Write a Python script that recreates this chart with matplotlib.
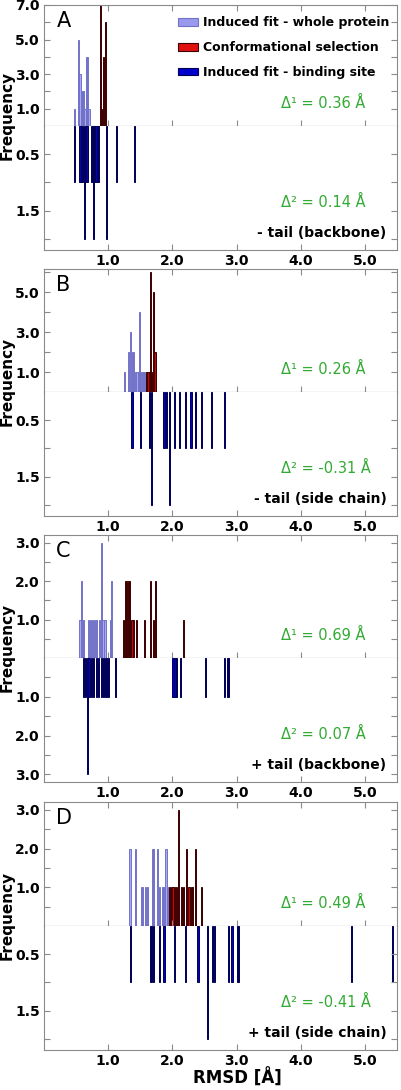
import matplotlib
matplotlib.use('Agg')
import matplotlib.pyplot as plt
from matplotlib.patches import Patch

# RMSD bin centres [A] and counts
# panel A : - tail (backbone)
a_whole_x = [0.48, 0.54, 0.56, 0.58, 0.60, 0.62, 0.64, 0.66, 0.68, 0.70]
a_whole_n = [1, 5, 3, 2, 2, 2, 1, 4, 4, 1]
a_conf_x = [0.88, 0.90, 0.93, 0.96]
a_conf_n = [7, 1, 4, 6]
a_site_x = [0.48, 0.56, 0.58, 0.60, 0.63, 0.65, 0.67, 0.74, 0.76, 0.77, 0.79, 0.81, 0.83, 0.85, 0.98, 1.13, 1.41]
a_site_n = [1, 1, 1, 1, 2, 1, 1, 1, 1, 2, 1, 1, 1, 1, 2, 1, 1]

# panel B : - tail (side chain)
b_whole_x = [1.26, 1.32, 1.35, 1.38, 1.40, 1.43, 1.45, 1.47, 1.49, 1.51, 1.53, 1.55, 1.57]
b_whole_n = [1, 2, 3, 2, 2, 1, 1, 1, 4, 1, 1, 1, 1]
b_conf_x = [1.60, 1.62, 1.64, 1.66, 1.68, 1.71, 1.73]
b_conf_n = [1, 1, 1, 6, 1, 5, 2]
b_site_x = [1.37, 1.51, 1.65, 1.68, 1.87, 1.91, 1.95, 2.03, 2.11, 2.20, 2.29, 2.36, 2.45, 2.61, 2.81]
b_site_n = [1, 1, 1, 2, 1, 1, 2, 1, 1, 1, 1, 1, 1, 1, 1]

# panel C : + tail (backbone)
c_whole_x = [0.56, 0.58, 0.60, 0.62, 0.69, 0.72, 0.76, 0.79, 0.82, 0.87, 0.90, 0.92, 0.95, 1.03, 1.05]
c_whole_n = [1, 2, 1, 1, 1, 1, 1, 1, 1, 1, 3, 1, 1, 1, 2]
c_conf_x = [1.24, 1.27, 1.29, 1.31, 1.33, 1.37, 1.40, 1.44, 1.57, 1.66, 1.70, 1.74, 2.18]
c_conf_n = [1, 2, 2, 2, 2, 1, 1, 1, 1, 2, 1, 2, 1]
c_site_x = [0.61, 0.65, 0.68, 0.70, 0.74, 0.77, 0.82, 0.85, 0.90, 0.93, 0.96, 0.98, 1.00, 1.11,
            2.01, 2.04, 2.06, 2.13, 2.51, 2.81, 2.86, 2.88]
c_site_n = [1, 1, 3, 1, 1, 1, 1, 1, 1, 1, 1, 1, 1, 1, 1, 1, 1, 1, 1, 1, 1, 1]

# panel D : + tail (side chain)
d_whole_x = [1.34, 1.42, 1.52, 1.54, 1.58, 1.61, 1.69, 1.71, 1.77, 1.80, 1.84, 1.86, 1.90, 1.92]
d_whole_n = [2, 2, 1, 1, 1, 1, 2, 2, 2, 1, 1, 1, 2, 1]
d_conf_x = [1.95, 1.98, 2.01, 2.03, 2.06, 2.10, 2.14, 2.17, 2.22, 2.26, 2.30, 2.32, 2.36, 2.45]
d_conf_n = [1, 1, 1, 1, 1, 3, 1, 1, 2, 1, 1, 1, 2, 1]
d_site_x = [1.35, 1.66, 1.68, 1.70, 1.80, 1.87, 2.03, 2.20, 2.40, 2.55, 2.62, 2.66, 2.87, 2.93,
            3.01, 3.03, 4.79, 5.43]
d_site_n = [1, 1, 1, 1, 1, 1, 1, 1, 1, 2, 1, 1, 1, 1, 1, 1, 1, 1]

letters = ['A', 'B', 'C', 'D']
delta1 = ['0.36', '0.26', '0.69', '0.49']
delta2 = ['0.14', '-0.31', '0.07', '-0.41']
tails = ['- tail (backbone)', '- tail (side chain)', '+ tail (backbone)', '+ tail (side chain)']
x_ticks = [1.0, 2.0, 3.0, 4.0, 5.0]

whole_col = dict(facecolor='#a8a8f4', edgecolor='#7272c8')
conf_col = dict(facecolor='#d40000', edgecolor='#3c0000')
site_col = dict(facecolor='#0000c8', edgecolor='#000058')
green = '#33aa33'
frame = '#8a8a8a'
bw = 0.018

W, H = 402, 1090
fig = plt.figure(figsize=(W / 100, H / 100), dpi=100)

# pixel rows (top, zero line, bottom) of each panel
rows = [(5, 126, 250), (269, 392, 516), (535, 658, 782), (802, 926, 1050)]
up_lims = [7.0, 6.15, 3.2, 3.2]
low_lims = [2.2, 2.2, 3.2, 2.2]
data = [(a_whole_x, a_whole_n, a_conf_x, a_conf_n, a_site_x, a_site_n),
        (b_whole_x, b_whole_n, b_conf_x, b_conf_n, b_site_x, b_site_n),
        (c_whole_x, c_whole_n, c_conf_x, c_conf_n, c_site_x, c_site_n),
        (d_whole_x, d_whole_n, d_conf_x, d_conf_n, d_site_x, d_site_n)]


def ticks_for(lim, step, labelled):
    t, lab = [], []
    v = step
    while v <= lim + 1e-9:
        t.append(v)
        lab.append('%.1f' % v if any(abs(v - l) < 1e-9 for l in labelled) else '')
        v += step
    return t, lab


def style(ax):
    for s in ax.spines.values():
        s.set_color(frame)
    ax.tick_params(direction='in', length=4, color=frame, top=True, right=True,
                   labelsize=10, pad=3)
    ax.set_xlim(0, 5.5)
    ax.set_xticks(x_ticks)
    ax.set_xticklabels(['%.1f' % v for v in x_ticks], fontweight='bold')


for i in range(4):
    top, mid, bot = rows[i]
    wx, wn, cx, cn, sx, sn = data[i]
    ax_up = fig.add_axes([44 / W, 1 - mid / H, 353 / W, (mid - top) / H])
    ax_lo = fig.add_axes([44 / W, 1 - bot / H, 353 / W, (bot - mid) / H])

    ax_up.bar(wx, wn, width=bw, linewidth=0.7, **whole_col)
    ax_up.bar(cx, cn, width=bw, linewidth=0.7, **conf_col)
    ax_lo.bar(sx, sn, width=bw, linewidth=0.7, **site_col)

    ax_up.set_ylim(0, up_lims[i])
    ax_lo.set_ylim(low_lims[i], 0)

    style(ax_up)
    style(ax_lo)

    if up_lims[i] > 4:
        t, lab = ticks_for(up_lims[i], 1.0, [1, 3, 5, 7])
    else:
        t, lab = ticks_for(up_lims[i], 0.5, [1, 2, 3])
    ax_up.set_yticks(t)
    ax_up.set_yticklabels(lab, fontweight='bold')
    if low_lims[i] > 3:
        t, lab = ticks_for(low_lims[i], 0.5, [1, 2, 3])
    else:
        t, lab = ticks_for(low_lims[i], 0.5, [0.5, 1.5])
    ax_lo.set_yticks(t)
    ax_lo.set_yticklabels(lab, fontweight='bold')

    ax_up.tick_params(labelbottom=False)
    ax_lo.tick_params(top=False)
    ax_up.spines['bottom'].set_color('#404040')
    ax_lo.spines['top'].set_visible(False)

    ax_up.text(0.035, 0.95, letters[i], transform=ax_up.transAxes, fontsize=15,
               ha='left', va='top')
    ax_up.text(0.671, 0.185, '\u0394\u00b9 = %s \u00c5' % delta1[i], transform=ax_up.transAxes,
               color=green, fontsize=10.5, ha='left', va='center')
    ax_lo.text(0.671, 0.38, '\u0394\u00b2 = %s \u00c5' % delta2[i], transform=ax_lo.transAxes,
               color=green, fontsize=10.5, ha='left', va='center')
    ax_lo.text(0.97, 0.14, tails[i], transform=ax_lo.transAxes, fontsize=10,
               fontweight='bold', ha='right', va='center')

    fig.text(7 / W, 1 - (mid - 11) / H, 'Frequency', rotation=90, fontsize=11,
             fontweight='bold', ha='center', va='center')

    if i == 0:
        handles = [Patch(linewidth=0.8, **dict(whole_col, facecolor='#9999ee')),
                   Patch(linewidth=0.8, **dict(conf_col, facecolor='#e01010')),
                   Patch(linewidth=0.8, **dict(site_col, facecolor='#0000cc'))]
        ax_up.legend(handles, ['Induced fit - whole protein', 'Conformational selection',
                               'Induced fit - binding site'],
                     loc='upper right', frameon=False, prop=dict(weight='bold', size=9),
                     handlelength=1.6, handleheight=0.6, labelspacing=0.95,
                     handletextpad=0.4, borderaxespad=0.2, bbox_to_anchor=(1.0, 0.97))
    if i == 3:
        ax_lo.set_xlabel('RMSD [\u00c5]', fontsize=12, fontweight='bold', labelpad=2)
        ax_lo.xaxis.set_label_coords(0.547, -0.15)

fig.savefig('out.png', dpi=100)
